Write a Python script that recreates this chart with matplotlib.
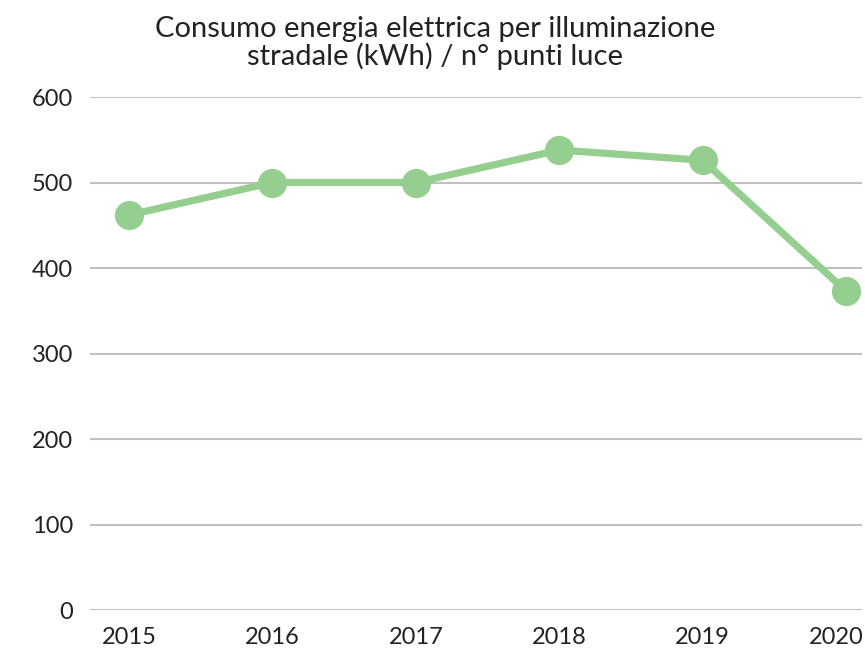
import matplotlib
matplotlib.use("Agg")
import matplotlib.pyplot as plt
import matplotlib.transforms as mtransforms

years = ["2015", "2016", "2017", "2018", "2019", "2020"]
values = [462, 500, 500, 538, 526, 373]
y_ticks = [0, 100, 200, 300, 400, 500, 600]

plt.rcParams["font.family"] = ["Lato", "DejaVu Sans"]

fig = plt.figure(figsize=(8.65, 6.49), dpi=100)
ax = fig.add_axes([0.104, 0.060, 0.8925, 0.7905])

x = list(range(len(years)))
ax.plot(x, values, color="#95cf8f", linewidth=5.2, marker="o",
        markersize=21, markeredgewidth=0, solid_capstyle="round", zorder=3)

ax.set_ylim(0, 600)
ax.set_xlim(-0.272, 5.11)
ax.set_yticks(y_ticks)
ax.set_xticks(x)
ax.set_xticklabels(years)
ax.grid(True, axis="y", color="#c0c0c0", linewidth=1.5)
ax.set_axisbelow(True)
for s in ax.spines.values():
    s.set_visible(False)
ax.tick_params(axis="both", length=0, labelsize=17, colors="#222222")
ax.tick_params(axis="y", pad=12)
ax.tick_params(axis="x", pad=12)

# pull last x label inside the canvas
lab = ax.get_xticklabels()[-1]
lab.set_transform(lab.get_transform() + mtransforms.ScaledTranslation(-10 / 100, 0, fig.dpi_scale_trans))

fig.text(0.503, 0.975, "Consumo energia elettrica per illuminazione\nstradale (kWh) / n° punti luce",
         ha="center", va="top", fontsize=21, color="#222222", linespacing=1.0)

fig.savefig("out.png", dpi=100)
